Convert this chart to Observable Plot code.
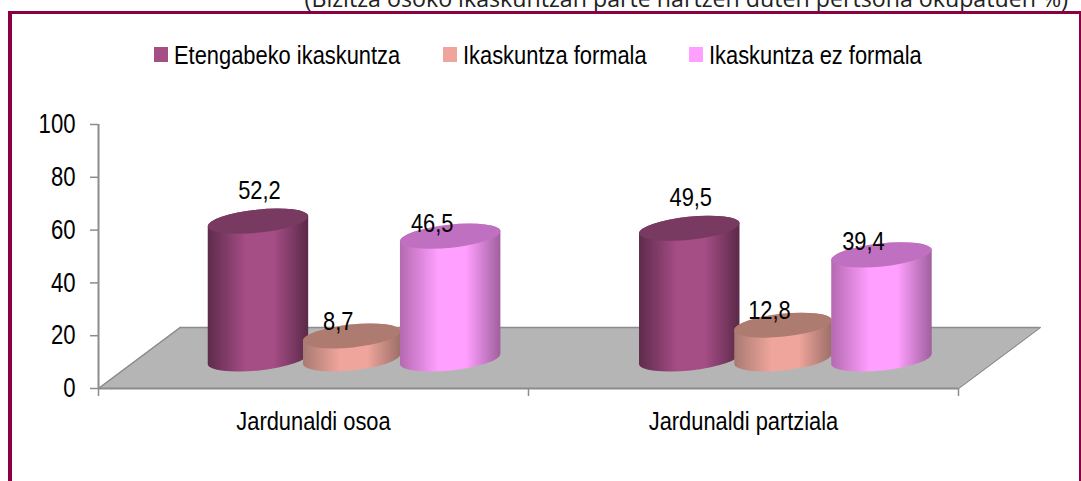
<!DOCTYPE html>
<html><head><meta charset="utf-8">
<script src="https://cdn.jsdelivr.net/npm/d3@7"></script>
<script src="https://cdn.jsdelivr.net/npm/@observablehq/plot@0.6"></script>
<style>
html,body{margin:0;padding:0;background:#fff;}
#wrap{position:relative;width:1081px;height:481px;overflow:hidden;font-family:"Liberation Sans",sans-serif;color:#000;}
#frame{position:absolute;left:8px;top:11px;width:1067px;height:480px;border:solid #8A0044;border-width:3.5px 4px 4px 4px;box-sizing:content-box;}
#sub{position:absolute;right:13px;top:-18px;font:23.2px "Open Sans",sans-serif;white-space:nowrap;color:#222;}
#legend{position:absolute;left:0;top:38px;height:34px;width:1081px;font-size:25px;}
#legend span{position:absolute;top:0;line-height:34px;white-space:nowrap;transform:scaleX(.875);transform-origin:0 50%;}
#legend i{position:absolute;top:9px;width:14px;height:15px;}
#chart{position:absolute;left:0;top:100px;}
</style></head><body>
<div id="wrap">
<div id="sub"></div><div id="frame"></div><div id="legend"></div><div id="chart"></div>
</div>
<script>
const subtitle = "(Bizitza osoko ikaskuntzan parte hartzen duten pertsona okupatuen %)";
const categories = ["Jardunaldi osoa", "Jardunaldi partziala"];
const seriesNames = ["Etengabeko ikaskuntza", "Ikaskuntza formala", "Ikaskuntza ez formala"];
const etengabeko = [52.2, 49.5];
const formala = [8.7, 12.8];
const ezFormala = [46.5, 39.4];
const yTicks = [0, 20, 40, 60, 80, 100];

// styles and 3D layout, kept apart from the values
const swatch = ["#A54D85", "#EFA59B", "#FF9FFF"];
const edgeL = ["#5E2B4C", "#A87A72", "#B469B0"];
const edgeR = ["#5A2948", "#9C6F68", "#A05F9E"];
const cap = ["#793A62", "#AE7B70", "#C070C0"];
const legendX = [154, 443, 689];
const fmt = v => String(v).replace(".", ",");

const rows = [];
[etengabeko, formala, ezFormala].forEach((vals, s) =>
  vals.forEach((value, g) => rows.push({group: g, series: s, value})));

const floorLift = 23.1, floorSkew = 0.19;   // depth of the 3D floor in axis units
const baseLift = 11;                        // bars stand mid-floor
const centre = [0.372, 0.59, 0.819];        // series position within a category band
const groupStep = 1.003;                    // spacing of the two clusters in band units
const halfW = [50.5, 49, 50.5];             // px
const ry = 11.5, tilt = 6 * Math.PI / 180;
const labelDx = [1, -14, -18.5], labelDy = [-31, -15, -13];
const barX = d => d.group * groupStep + centre[d.series];

const floorRows = [
  {y: 0, x1: 0, x2: 2},
  {y: floorLift, x1: floorSkew, x2: 2 + floorSkew}
];

function cylinder(d) {
  return (index, scales) => {
    const cx = scales.x(barX(d));
    const top = scales.y(d.value + baseLift), bot = scales.y(baseLift);
    const rx = halfW[d.series];
    const dx = rx * Math.cos(tilt), dy = rx * Math.sin(tilt);
    const rot = -tilt * 180 / Math.PI;
    const ns = "http://www.w3.org/2000/svg";
    const g = document.createElementNS(ns, "g");
    const body = document.createElementNS(ns, "path");
    body.setAttribute("d",
      `M${cx - dx},${top + dy}L${cx - dx},${bot + dy}` +
      `A${rx},${ry} ${rot} 0 0 ${cx + dx},${bot - dy}` +
      `L${cx + dx},${top - dy}A${rx},${ry} ${rot} 0 0 ${cx - dx},${top + dy}Z`);
    body.setAttribute("fill", `url(#cyl${d.series})`);
    const top2 = document.createElementNS(ns, "ellipse");
    top2.setAttribute("cx", cx); top2.setAttribute("cy", top);
    top2.setAttribute("rx", rx); top2.setAttribute("ry", ry);
    top2.setAttribute("transform", `rotate(${rot} ${cx} ${top})`);
    top2.setAttribute("fill", cap[d.series]);
    g.append(body, top2);
    return g;
  };
}

const defs = () => {
  const ns = "http://www.w3.org/2000/svg";
  const el = document.createElementNS(ns, "defs");
  swatch.forEach((c, i) => {
    const lg = document.createElementNS(ns, "linearGradient");
    lg.id = "cyl" + i;
    [[0, edgeL[i]], [0.38, c], [0.66, c], [1, edgeR[i]]].forEach(([o, col]) => {
      const st = document.createElementNS(ns, "stop");
      st.setAttribute("offset", o); st.setAttribute("stop-color", col);
      lg.append(st);
    });
    el.append(lg);
  });
  return el;
};

const axisColor = "#8C8C8C";
const chart = Plot.plot({
  width: 1081, height: 381,
  marginLeft: 98, marginRight: 123, marginTop: 24, marginBottom: 93,
  style: {background: "transparent", fontFamily: '"Liberation Sans",sans-serif', fontSize: "25px", color: "#000", overflow: "visible"},
  x: {domain: [0, 2], axis: null},
  y: {domain: [0, 100], axis: null},
  marks: [
    defs,
    Plot.areaX(floorRows, {y: "y", x1: "x1", x2: "x2", fill: "#B5B5B5", curve: "linear"}),
    Plot.line(floorRows, {x: "x2", y: "y", stroke: axisColor, strokeWidth: 1.5}),
    Plot.ruleY([floorLift], {x1: floorSkew, x2: 2 + floorSkew, stroke: axisColor, strokeWidth: 1.5}),
    Plot.line(floorRows, {x: "x1", y: "y", stroke: axisColor, strokeWidth: 1.5}),
    Plot.ruleX([0], {y1: 0, y2: 100, stroke: axisColor, strokeWidth: 2}),
    Plot.ruleY([0], {x1: 0, x2: 2, stroke: axisColor, strokeWidth: 2}),
    Plot.axisY({ticks: yTicks, tickSize: 8, tickPadding: 15, stroke: axisColor, strokeWidth: 1.5, fill: "#000", fontSize: 27, anchor: "left", label: null, tickFormat: d => d}),
    Plot.axisX({ticks: [0, 1, 2], tickSize: 8, stroke: axisColor, strokeWidth: 1.5, tickFormat: () => "", anchor: "bottom", label: null}),
    Plot.axisX({ticks: [0.5, 1.5], tickSize: 0, tickPadding: 24, fill: "#000", fontSize: 25, anchor: "bottom", label: null, tickFormat: d => categories[Math.floor(d)]}),
    ...rows.map(cylinder),
    Plot.text(rows, {
      x: barX,
      y: d => d.value + baseLift,
      text: d => fmt(d.value),
      fill: "#000", fontSize: 25,
      render(index, scales, values, dim, ctx, next) {
        const g = next(index, scales, values, dim, ctx);
        g.querySelectorAll("text").forEach((t, i) => {
          const d = rows[i];
          t.setAttribute("transform", `translate(${scales.x(barX(d)) + labelDx[d.series]},${scales.y(d.value + baseLift) + labelDy[d.series]})`);
        });
        return g;
      }
    })
  ]
});
// The reference face is a narrow sans: condense each label about its own anchor.
chart.querySelectorAll("text").forEach(t => {
  const tr = t.getAttribute("transform") || "";
  const big = t.closest("[font-size='27']") || t.getAttribute("font-size") === "27";
  t.setAttribute("transform", `${tr} scale(${big ? 0.82 : 0.875},1)`);
});
document.getElementById("chart").append(chart);
document.getElementById("sub").textContent = subtitle;
const lg = document.getElementById("legend");
seriesNames.forEach((n, i) => {
  const sw = document.createElement("i");
  sw.style.left = legendX[i] + "px"; sw.style.background = swatch[i];
  const sp = document.createElement("span");
  sp.style.left = legendX[i] + 20 + "px"; sp.textContent = n;
  lg.append(sw, sp);
});
</script>
</body></html>
